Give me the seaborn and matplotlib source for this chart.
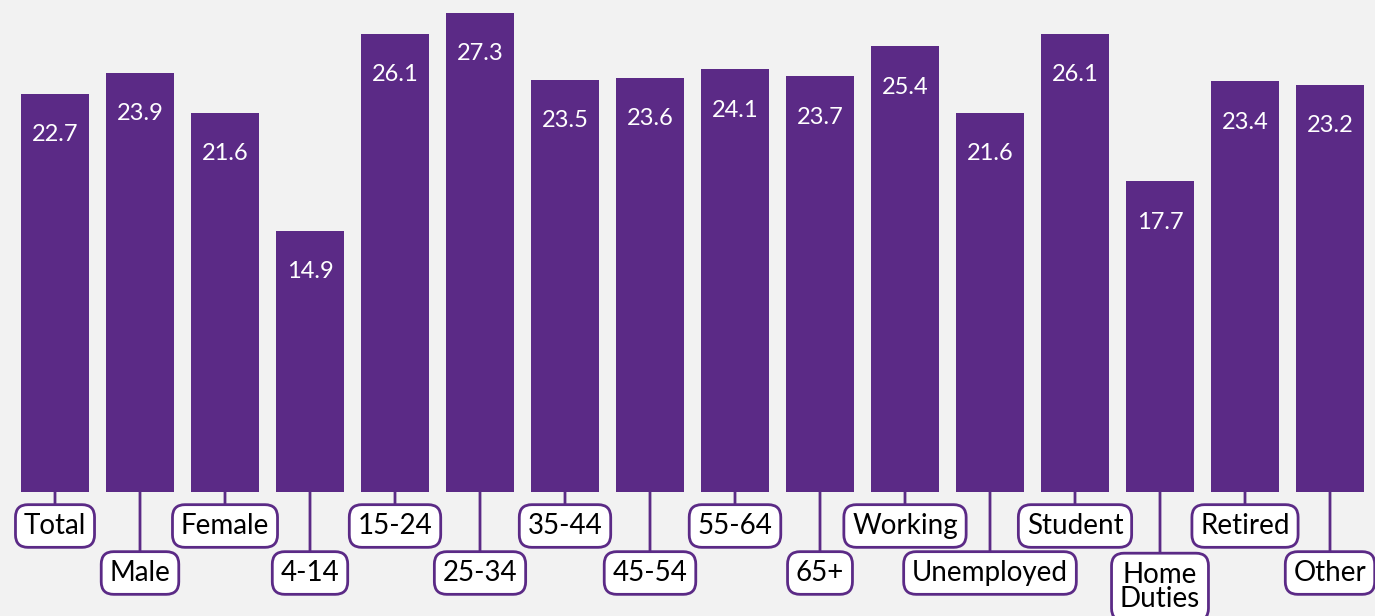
import numpy as np
import pandas as pd
import matplotlib.pyplot as plt
import seaborn as sns

# data
categories = ["Total", "Male", "Female", "4-14", "15-24", "25-34", "35-44", "45-54",
              "55-64", "65+", "Working", "Unemployed", "Student", "Home\nDuties",
              "Retired", "Other"]
values = [22.7, 23.9, 21.6, 14.9, 26.1, 27.3, 23.5, 23.6,
          24.1, 23.7, 25.4, 21.6, 26.1, 17.7, 23.4, 23.2]

purple = "#5b2a86"
bg = "#f2f2f2"

sns.set_theme(style="white")
plt.rcParams['font.family'] = ['Lato', 'DejaVu Sans']

df = pd.DataFrame({"cat": categories, "val": values})

fig = plt.figure(figsize=(13.75, 6.16), dpi=100, facecolor=bg)
ax = fig.add_axes([0, 124 / 616, 1, 492 / 616])
ax.set_facecolor(bg)

sns.barplot(data=df, x="cat", y="val", color=purple, saturation=1, width=0.8,
            linewidth=0, ax=ax)

ax.set_xlim(-55 / 85, (1375 - 55) / 85)
ax.set_ylim(0, 492 / 17.55)
for s in ax.spines.values():
    s.set_visible(False)
ax.set_xticks([])
ax.set_yticks([])
ax.set_xlabel("")
ax.set_ylabel("")

# value labels inside bars
for i, v in enumerate(values):
    ax.annotate(f"{v:.1f}", xy=(i, v), xytext=(0, -41), textcoords="offset pixels",
                ha="center", va="center", color="white", fontsize=17)

# category labels in boxes, alternating rows
for i, c in enumerate(categories):
    off = -34 if i % 2 == 0 else -81
    if "\n" in c:
        off -= 14
    ax.annotate(c, xy=(i, 0), xytext=(0, off), textcoords="offset pixels",
                ha="center", va="center", fontsize=20, color="black",
                linespacing=0.95, annotation_clip=False,
                bbox=dict(boxstyle="round,pad=0.3,rounding_size=0.45", fc="white",
                          ec=purple, lw=2),
                arrowprops=dict(arrowstyle="-", color=purple, lw=2,
                                shrinkA=0, shrinkB=0))

fig.savefig("out.png", dpi=100, facecolor=bg)
